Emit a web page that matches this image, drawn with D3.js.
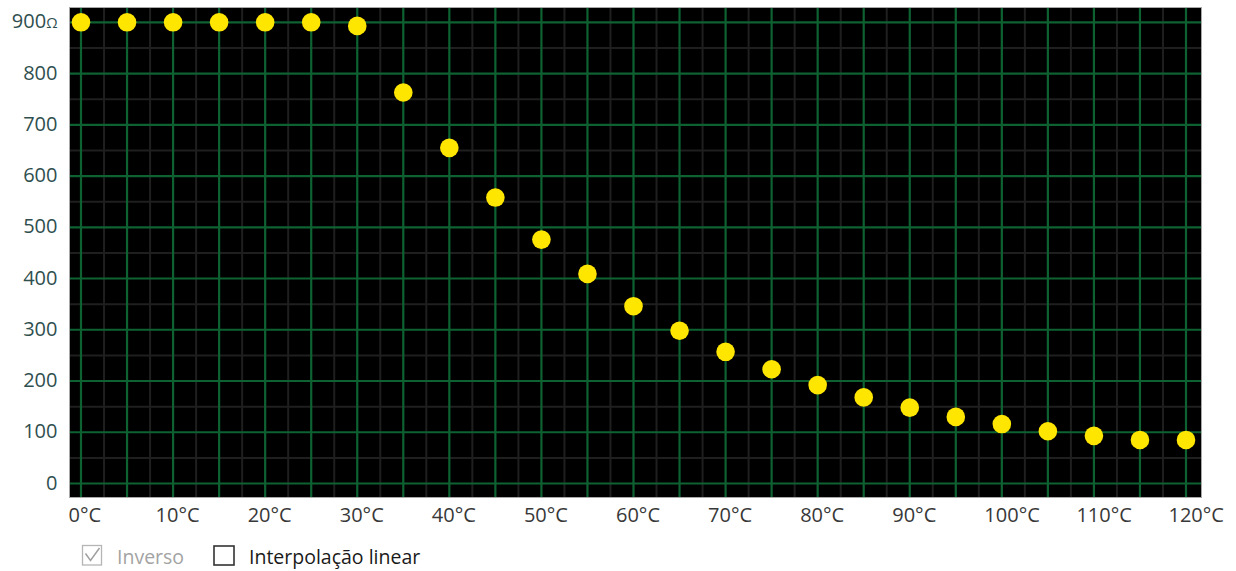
<!DOCTYPE html>
<html><head><meta charset="utf-8">
<script src="https://cdn.jsdelivr.net/npm/d3@7"></script>
<style>
body{margin:0;background:#fff;}
svg{display:block;font-family:"Open Sans","Noto Sans",sans-serif;}
</style>
</head><body>
<svg id="c" width="1236" height="571"></svg>
<script>
// ---- data ----
const temperatures = [0,5,10,15,20,25,30,35,40,45,50,55,60,65,70,75,80,85,90,95,100,105,110,115,120];
const resistances  = [900,900,900,900,900,900,893,763,655,558,476,409,346,298,257,223,192,168,148,130,116,102,93,85,85];
const xLabelValues = [0,10,20,30,40,50,60,70,80,90,100,110,120];
const xLabels      = ["0°C","10°C","20°C","30°C","40°C","50°C","60°C","70°C","80°C","90°C","100°C","110°C","120°C"];
const yLabelValues = [0,100,200,300,400,500,600,700,800,900];
const yLabels      = ["0","100","200","300","400","500","600","700","800","900"];
const unitSymbol   = "Ω";
const checkboxLabels  = ["Inverso","Interpolação linear"];
const checkboxChecked = [true,false];
const checkboxEnabled = [false,true];

// ---- layout ----
const frame = {left:70, right:1201, top:7, bottom:497};
const x = d3.scaleLinear().domain([0,120]).range([81,1186]);
const y = d3.scaleLinear().domain([0,900]).range([483.5,22.3]);
const svg = d3.select("#c");

svg.append("rect")
  .attr("x",frame.left).attr("y",frame.top)
  .attr("width",frame.right-frame.left).attr("height",frame.bottom-frame.top)
  .attr("fill","#000");

const minorX = d3.range(2.5,120,5);
const minorY = d3.range(50,900,100);
const majorX = d3.range(0,120.1,5);
const majorY = d3.range(0,900.1,100);

const grid = svg.append("g");
grid.selectAll("line.mx").data(minorX).join("line")
  .attr("x1",d=>x(d)).attr("x2",d=>x(d)).attr("y1",frame.top).attr("y2",frame.bottom)
  .attr("stroke","#1f1f1f").attr("stroke-width",2);
grid.selectAll("line.my").data(minorY).join("line")
  .attr("y1",d=>y(d)).attr("y2",d=>y(d)).attr("x1",frame.left).attr("x2",frame.right)
  .attr("stroke","#1f1f1f").attr("stroke-width",2);
grid.selectAll("line.Mx").data(majorX).join("line")
  .attr("x1",d=>x(d)).attr("x2",d=>x(d)).attr("y1",frame.top).attr("y2",frame.bottom)
  .attr("stroke","#0e6232").attr("stroke-width",2.2);
grid.selectAll("line.My").data(majorY).join("line")
  .attr("y1",d=>y(d)).attr("y2",d=>y(d)).attr("x1",frame.left).attr("x2",frame.right)
  .attr("stroke","#0e6232").attr("stroke-width",2.2);

svg.append("rect")
  .attr("x",frame.left-0.5).attr("y",frame.top+0.5)
  .attr("width",frame.right-frame.left+1).attr("height",frame.bottom-frame.top)
  .attr("fill","none").attr("stroke","#a8a8a8").attr("stroke-width",1);

// ---- points ----
svg.append("g").selectAll("circle")
  .data(temperatures.map((t,i)=>({t, r:resistances[i]})))
  .join("circle")
  .attr("cx",d=>x(d.t)).attr("cy",d=>y(d.r)).attr("r",9.3)
  .attr("fill","#ffe600");

// ---- x axis labels ----
const xAxis = svg.append("g").attr("transform","translate(0,522)")
  .call(d3.axisBottom(x).tickValues(xLabelValues).tickFormat((d,i)=>xLabels[i]).tickSize(0));
xAxis.select(".domain").remove();
xAxis.selectAll("text")
  .attr("y",0).attr("dy",null)
  .attr("text-anchor","start")
  .attr("x",(d,i)=> i===0 ? -13 : -18)
  .attr("fill","#383838").attr("font-size","20px")
  .attr("font-family","'Open Sans','Noto Sans',sans-serif");

// ---- y axis labels ----
const yAxis = svg.append("g").attr("transform","translate(57.5,0)")
  .call(d3.axisLeft(y).tickValues(yLabelValues).tickFormat((d,i)=>yLabels[i]).tickSize(0));
yAxis.select(".domain").remove();
yAxis.selectAll("text")
  .attr("x",0).attr("dy","0.33em").attr("y",-1)
  .attr("text-anchor","end")
  .attr("fill","#2f4f4f").attr("font-size","20px")
  .attr("font-family","'Open Sans','Noto Sans',sans-serif");
yAxis.selectAll("text").filter((d,i)=>i===yLabelValues.length-1)
  .append("tspan").attr("font-size","14.5px").text(unitSymbol);

// ---- checkboxes ----
const cb = svg.append("g").attr("font-size","19.5px");
// box 1 (checked, disabled)
cb.append("rect").attr("x",82.5).attr("y",545.5).attr("width",19).attr("height",19.5)
  .attr("fill","#fff").attr("stroke","#b5b5b5").attr("stroke-width",1.3);
cb.append("polyline").attr("points","85.5,553.5 90.5,560.5 99.5,548")
  .attr("fill","none").attr("stroke","#a0a0a0").attr("stroke-width",1.5);
cb.append("text").attr("x",117).attr("y",564).attr("fill","#a3a3a3").text(checkboxLabels[0]);
// box 2 (unchecked, enabled)
cb.append("rect").attr("x",214).attr("y",546).attr("width",20).attr("height",19)
  .attr("fill","#fff").attr("stroke","#333").attr("stroke-width",1.6);
cb.append("text").attr("x",249).attr("y",564).attr("fill","#1a1a1a").text(checkboxLabels[1]);
</script>
</body></html>
